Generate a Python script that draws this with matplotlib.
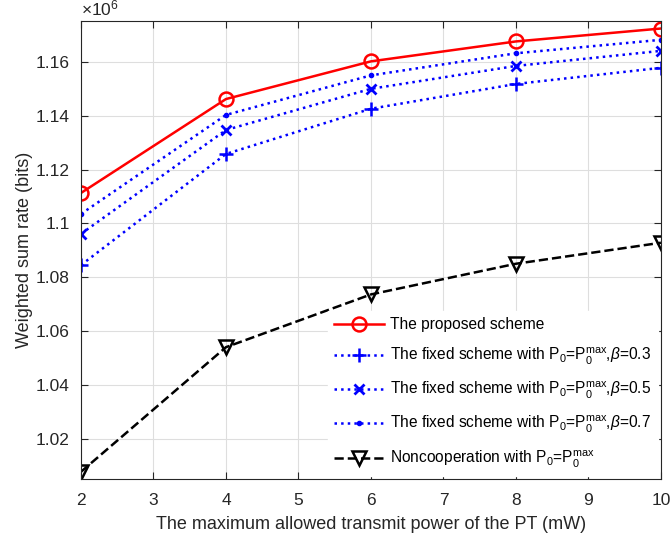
import matplotlib.pyplot as plt
from matplotlib.ticker import FuncFormatter, MultipleLocator

plt.rcParams['font.family'] = ['Liberation Sans', 'DejaVu Sans']
plt.rcParams['mathtext.fontset'] = 'custom'
plt.rcParams['mathtext.rm'] = 'Liberation Sans'
plt.rcParams['mathtext.it'] = 'Liberation Sans:italic'

# power of the PT (mW)
power = [2, 4, 6, 8, 10]

# weighted sum rate (bits)
proposed = [1.1113e6, 1.1462e6, 1.1602e6, 1.1676e6, 1.1724e6]
fixed_03 = [1.0845e6, 1.1258e6, 1.1426e6, 1.1518e6, 1.1578e6]
fixed_05 = [1.0961e6, 1.1347e6, 1.1500e6, 1.1585e6, 1.1641e6]
fixed_07 = [1.1035e6, 1.1403e6, 1.1550e6, 1.1632e6, 1.1682e6]
noncoop = [1.0077e6, 1.0540e6, 1.0736e6, 1.0850e6, 1.0928e6]

fig = plt.figure(figsize=(6.71, 5.45), dpi=100)
ax = fig.add_axes([0.1207, 0.121, 0.8643, 0.8405])

ax.plot(power, proposed, '-o', color='red', lw=1.8, ms=10, mfc='none', mew=1.8,
        label='The proposed scheme')
ax.plot(power, fixed_03, ':+', color='blue', lw=1.8, ms=10, mew=1.8,
        label=r'The fixed scheme with P$_0$=P$_0^{\mathrm{max}}$,$\beta$=0.3')
ax.plot(power, fixed_05, ':x', color='blue', lw=1.8, ms=7, mew=2,
        label=r'The fixed scheme with P$_0$=P$_0^{\mathrm{max}}$,$\beta$=0.5')
ax.plot(power, fixed_07, ':.', color='blue', lw=1.8, ms=6,
        label=r'The fixed scheme with P$_0$=P$_0^{\mathrm{max}}$,$\beta$=0.7')
ax.plot(power, noncoop, '--v', color='black', lw=1.8, ms=10, mfc='none', mew=1.8,
        label=r'Noncooperation with P$_0$=P$_0^{\mathrm{max}}$')

ax.set_xlim(2, 10)
ax.set_ylim(1.005e6, 1.1752e6)
ax.xaxis.set_major_locator(MultipleLocator(1))
ax.yaxis.set_major_locator(MultipleLocator(0.02e6))
ax.yaxis.set_major_formatter(FuncFormatter(lambda v, _: f'{v / 1e6:g}'))
ax.text(0, 1.005, r'$\times10^{6}$', transform=ax.transAxes, fontsize=12.5,
        color='#262626', va='bottom', ha='left')

ax.grid(True, color='#dedede', lw=0.8)
ax.set_axisbelow(True)
ax.tick_params(direction='in', top=True, right=True, labelsize=12.5,
               colors='#262626', length=5)
ax.tick_params(axis='x', pad=10)
ax.tick_params(axis='y', pad=8)
for s in ax.spines.values():
    s.set_color('#262626')
    s.set_linewidth(0.8)

ax.set_xlabel('The maximum allowed transmit power of the PT (mW)', fontsize=13,
              color='#262626', labelpad=6)
ax.set_ylabel('Weighted sum rate (bits)', fontsize=13, color='#262626', labelpad=2)

leg = ax.legend(loc='lower right', fontsize=11.2, frameon=True, fancybox=False,
                edgecolor='white', framealpha=1, handlelength=3.2, handletextpad=0.4,
                labelspacing=0.85, borderaxespad=0.2)

fig.savefig('out.png', dpi=100)
